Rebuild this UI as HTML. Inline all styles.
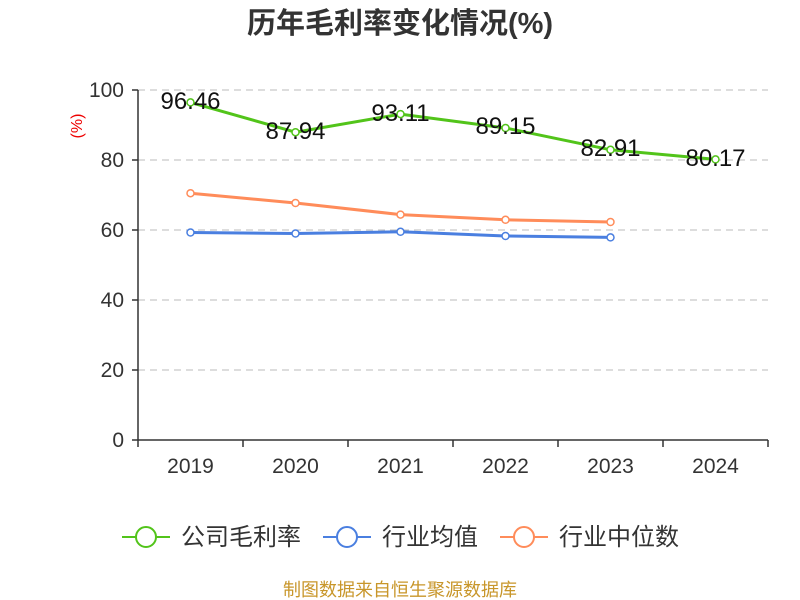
<!DOCTYPE html>
<html><head><meta charset="utf-8"><style>
body{margin:0;background:#fff;}
svg{display:block;font-family:"Liberation Sans","Noto Sans CJK SC",sans-serif;}
</style></head><body>
<svg width="800" height="600" viewBox="0 0 800 600">
<text x="400" y="33" text-anchor="middle" font-size="29" font-weight="bold" fill="#333">历年毛利率变化情况(%)</text>
<g stroke="#bbb" stroke-dasharray="7,5" stroke-width="1">
<line x1="138" x2="768" y1="90" y2="90"/><line x1="138" x2="768" y1="160" y2="160"/>
<line x1="138" x2="768" y1="230" y2="230"/><line x1="138" x2="768" y1="300" y2="300"/>
<line x1="138" x2="768" y1="370" y2="370"/>
</g>
<g stroke="#333" stroke-width="1.5">
<line x1="138" x2="138" y1="90" y2="440"/><line x1="138" x2="768" y1="440" y2="440"/>
<line x1="132" x2="138" y1="90" y2="90"/><line x1="132" x2="138" y1="160" y2="160"/><line x1="132" x2="138" y1="230" y2="230"/><line x1="132" x2="138" y1="300" y2="300"/><line x1="132" x2="138" y1="370" y2="370"/><line x1="132" x2="138" y1="440" y2="440"/>
<line x1="138" x2="138" y1="440" y2="447"/><line x1="243" x2="243" y1="440" y2="447"/><line x1="348" x2="348" y1="440" y2="447"/><line x1="453" x2="453" y1="440" y2="447"/><line x1="558" x2="558" y1="440" y2="447"/><line x1="663" x2="663" y1="440" y2="447"/><line x1="768" x2="768" y1="440" y2="447"/>
</g>
<g font-size="21" fill="#333" text-anchor="end">
<text x="124" y="97">100</text><text x="124" y="167">80</text><text x="124" y="237">60</text><text x="124" y="307">40</text><text x="124" y="377">20</text><text x="124" y="447">0</text>
</g>
<g font-size="21" fill="#333" text-anchor="middle">
<text x="190.5" y="473">2019</text><text x="295.5" y="473">2020</text><text x="400.5" y="473">2021</text><text x="505.5" y="473">2022</text><text x="610.5" y="473">2023</text><text x="715.5" y="473">2024</text>
</g>
<text transform="translate(82,126) rotate(-90)" font-size="16" fill="#e00" text-anchor="middle">(%)</text>
<polyline fill="none" stroke="#ff8c5a" stroke-width="3" points="190.5,193.2 295.5,203 400.5,214.6 505.5,219.8 610.5,222"/>
<polyline fill="none" stroke="#4a7fe0" stroke-width="3" points="190.5,232.5 295.5,233.5 400.5,231.8 505.5,236 610.5,237.4"/>
<polyline fill="none" stroke="#52c41a" stroke-width="3" points="190.5,102.4 295.5,132.2 400.5,114.1 505.5,128 610.5,149.8 715.5,159.4"/>
<g fill="#fff" stroke-width="1.5">
<g stroke="#ff8c5a"><circle cx="190.5" cy="193.2" r="3.5"/><circle cx="295.5" cy="203" r="3.5"/><circle cx="400.5" cy="214.6" r="3.5"/><circle cx="505.5" cy="219.8" r="3.5"/><circle cx="610.5" cy="222" r="3.5"/></g>
<g stroke="#4a7fe0"><circle cx="190.5" cy="232.5" r="3.5"/><circle cx="295.5" cy="233.5" r="3.5"/><circle cx="400.5" cy="231.8" r="3.5"/><circle cx="505.5" cy="236" r="3.5"/><circle cx="610.5" cy="237.4" r="3.5"/></g>
<g stroke="#52c41a"><circle cx="190.5" cy="102.4" r="3.5"/><circle cx="295.5" cy="132.2" r="3.5"/><circle cx="400.5" cy="114.1" r="3.5"/><circle cx="505.5" cy="128" r="3.5"/><circle cx="610.5" cy="149.8" r="3.5"/><circle cx="715.5" cy="159.4" r="3.5"/></g>
</g>
<g font-size="24" fill="#111" text-anchor="middle">
<text x="190.5" y="109">96.46</text><text x="295.5" y="139">87.94</text><text x="400.5" y="121">93.11</text><text x="505.5" y="134">89.15</text><text x="610.5" y="156">82.91</text><text x="715.5" y="166">80.17</text>
</g>
<g stroke-width="2" fill="#fff">
<line x1="122" x2="170" y1="537" y2="537" stroke="#52c41a"/><circle cx="146" cy="537" r="10" stroke="#52c41a"/>
<line x1="323" x2="371" y1="537" y2="537" stroke="#4a7fe0"/><circle cx="347" cy="537" r="10" stroke="#4a7fe0"/>
<line x1="500" x2="548" y1="537" y2="537" stroke="#ff8c5a"/><circle cx="524" cy="537" r="10" stroke="#ff8c5a"/>
</g>
<g font-size="24" fill="#333">
<text x="181" y="545">公司毛利率</text><text x="382" y="545">行业均值</text><text x="559" y="545">行业中位数</text>
</g>
<text x="400" y="596" text-anchor="middle" font-size="18" fill="#c8962a">制图数据来自恒生聚源数据库</text>
</svg>
</body></html>
